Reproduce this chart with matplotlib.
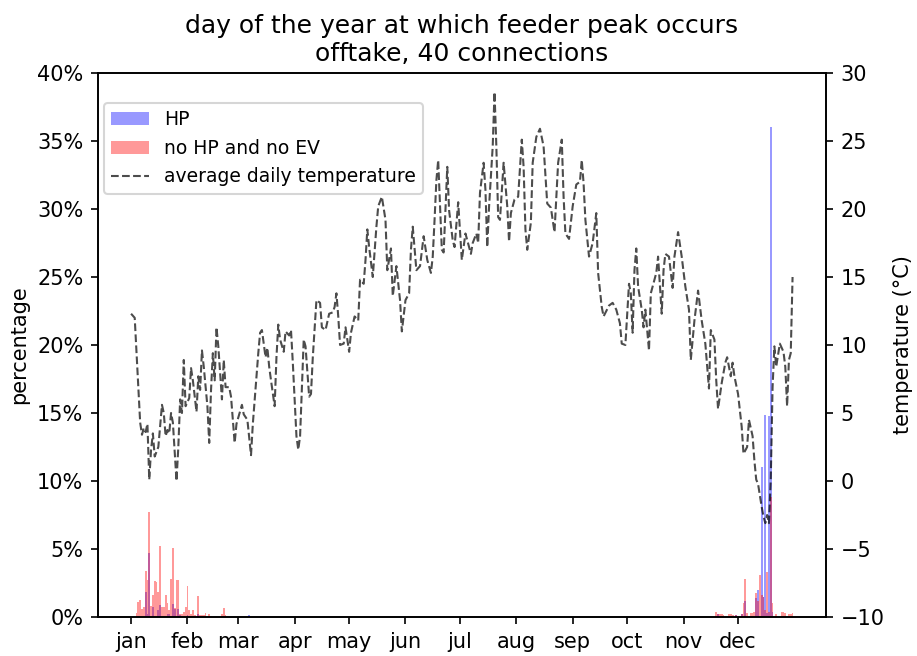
import matplotlib
matplotlib.use("Agg")
import matplotlib.pyplot as plt
from matplotlib.ticker import FuncFormatter
import numpy as np

# ---- data ----
month_labels = ['jan', 'feb', 'mar', 'apr', 'may', 'jun', 'jul', 'aug', 'sep', 'oct', 'nov', 'dec']
month_starts = [0, 31, 59, 90, 120, 151, 181, 212, 243, 273, 304, 334]

hp_days = [8, 9, 10, 12, 15, 16, 20, 21, 23, 24, 26, 27, 31, 37, 65,
           323, 333, 336, 338, 344, 345, 347, 348, 349, 350, 351, 352, 353]
hp_pct = [1.85, 0.25, 4.7, 0.7, 0.5, 0.85, 0.25, 0.25, 0.95, 0.6, 0.6, 0.15, 0.15, 0.25, 0.15,
          0.2, 0.15, 0.2, 1.2, 1.4, 2.0, 11.0, 1.5, 14.85, 0.3, 14.8, 36.0, 0.4]

nohp_days = [3, 4, 5, 6, 7, 8, 9, 10, 11, 12, 13, 14, 15, 16, 17, 18, 19, 20, 21, 22, 23,
             24, 25, 26, 27, 28, 29, 30, 31, 32, 33, 34, 35, 37, 38, 39, 40, 41, 43, 44,
             50, 51, 52,
             322, 323, 324, 325, 326, 329, 330, 331, 333, 336, 337, 338, 339, 341, 342, 343,
             344, 345, 346, 347, 348, 349, 350, 351, 352, 353, 355, 358, 359, 360, 362, 363, 364]
nohp_pct = [0.27, 1.1, 1.25, 0.56, 0.7, 3.4, 2.7, 7.7, 0.8, 1.6, 2.65, 2.6, 1.85, 5.2, 0.75,
            0.75, 1.65, 1.05, 0.5, 2.8, 5.1, 0.65, 2.75, 2.7, 0.25, 0.25, 0.4, 0.7, 2.3, 0.5,
            0.25, 0.55, 0.15, 1.55, 0.15, 0.15, 0.15, 0.3, 0.2, 0.1,
            0.2, 0.65, 0.15,
            0.35, 0.25, 0.2, 0.2, 0.15, 0.2, 0.2, 0.15, 0.15, 0.2, 1.0, 2.8, 0.3, 0.3, 0.3, 0.35,
            1.75, 1.2, 3.1, 1.6, 1.5, 0.5, 3.3, 0.4, 8.8, 1.0, 0.2, 0.4, 0.4, 0.3, 0.2, 0.25, 0.3]

temp_days = [0, 2, 5, 6, 7, 8, 9, 10, 11, 12, 13, 15, 17, 18, 19, 20, 21, 22, 23, 25, 26, 27, 28,
             29, 30, 32, 33, 34, 36, 37, 38, 39, 40, 42, 43, 44, 45, 46, 47, 48, 50, 51, 52, 54,
             55, 57, 58, 61, 62, 64, 66, 67, 70, 71, 72, 74, 75, 76, 77, 79, 80, 81, 82, 84, 85,
             87, 88, 89, 91, 92, 93, 95, 96, 98, 99, 100, 102, 104, 105, 107, 109, 111, 112, 113,
             114, 115, 117, 118, 120, 121, 123, 125, 126, 128, 129, 130, 131, 133, 135, 136, 138,
             140, 141, 143, 144, 146, 148, 149, 151, 153, 154, 155, 157, 159, 161, 163, 165, 166,
             167, 168, 169, 171, 172, 174, 175, 177, 178, 180, 182, 184, 185, 187, 188, 190, 191,
             192, 194, 195, 196, 197, 199, 200, 201, 202, 203, 205, 207, 208, 209, 211, 213, 215,
             216, 217, 218, 220, 221, 223, 225, 227, 229, 231, 233, 235, 237, 238, 239, 241, 243,
             245, 247, 248, 249, 250, 252, 254, 256, 257, 259, 260, 263, 265, 267, 269, 270, 272,
             274, 275, 276, 277, 278, 279, 281, 282, 283, 285, 286, 289, 290, 292, 293, 294, 296,
             298, 299, 301, 303, 305, 307, 308, 310, 312, 314, 316, 318, 319, 321, 322, 323, 325,
             327, 328, 330, 331, 332, 334, 336, 337, 339, 340, 342, 343, 344, 345, 347, 348, 349,
             350, 351, 352, 353, 354, 355, 357, 359, 360, 361, 362, 363, 364]
temp_vals = [12.3, 12.0, 4.3, 3.4, 3.9, 3.6, 4.2, 0.1, 2.3, 3.5, 1.8, 2.5, 5.6, 5.0, 3.3, 3.75,
             3.5, 5.0, 4.3, 0.0, 2.5, 6.0, 5.0, 8.9, 5.5, 6.1, 8.3, 7.4, 5.1, 7.7, 6.7, 9.6, 8.4,
             5.5, 2.8, 6.7, 9.4, 7.4, 11.3, 9.9, 6.0, 8.9, 6.9, 6.9, 6.2, 2.8, 4.2, 5.6, 4.9, 4.5,
             1.9, 4.2, 9.4, 10.9, 11.1, 9.1, 9.8, 8.4, 7.4, 5.5, 9.1, 11.5, 10.4, 9.5, 11.0, 10.7,
             11.1, 8.7, 3.3, 2.3, 3.3, 10.4, 9.9, 6.2, 6.4, 9.1, 13.3, 13.1, 11.3, 11.1, 12.3, 12.4,
             12.8, 13.8, 12.1, 10.0, 10.1, 11.3, 9.5, 10.9, 12.1, 11.8, 14.8, 14.5, 16.25, 18.5,
             17.2, 15.0, 18.7, 20.2, 20.9, 19.2, 15.5, 17.1, 13.6, 15.8, 13.3, 11.0, 13.3, 13.8,
             17.0, 18.7, 15.5, 15.8, 18.0, 16.25, 15.3, 16.5, 19.2, 22.1, 23.6, 17.0, 16.8, 23.1,
             19.9, 17.7, 17.2, 20.5, 16.25, 18.2, 17.7, 16.7, 17.5, 18.2, 17.5, 21.2, 23.4, 21.4,
             17.2, 20.2, 24.6, 28.6, 24.6, 19.4, 19.2, 23.4, 20.2, 17.6, 19.7, 20.7, 20.9, 25.1,
             23.1, 18.5, 17.0, 19.0, 23.4, 25.3, 25.9, 24.6, 20.4, 20.1, 18.3, 23.4, 25.1, 20.9,
             18.2, 17.8, 20.2, 21.8, 22.0, 23.6, 21.9, 19.2, 16.5, 17.5, 19.7, 15.3, 12.8, 12.1,
             12.9, 13.1, 12.6, 11.6, 10.1, 10.0, 14.5, 13.8, 10.9, 15.5, 17.1, 14.3, 12.6, 11.3,
             12.6, 9.6, 13.8, 15.3, 16.5, 12.3, 15.5, 16.7, 16.5, 14.2, 16.5, 18.3, 16.5, 14.3,
             12.6, 8.9, 11.8, 14.0, 11.8, 10.1, 6.8, 11.1, 10.4, 7.4, 5.3, 7.2, 8.7, 9.1, 7.7, 8.7,
             7.7, 6.4, 4.0, 2.0, 2.5, 4.5, 3.3, 1.5, 0.1, -0.2, -1.9, -2.6, -3.1, -2.5, -3.1, 0.1,
             6.9, 9.9, 8.4, 10.1, 9.5, 8.4, 5.5, 8.9, 9.4, 15.0]

# ---- figure ----
fig = plt.figure(figsize=(917 / 150, 656 / 150), dpi=150)
ax = fig.add_axes([98 / 917, 1 - 617 / 656, 728 / 917, 544 / 656])

ax.bar(hp_days, hp_pct, width=1.0, color='blue', alpha=0.4, label='HP')
ax.bar(nohp_days, nohp_pct, width=1.0, color='red', alpha=0.4, label='no HP and no EV')
ax.set_ylim(0, 40)
ax.set_xlim(-18.2, 382.4)
ax.yaxis.set_major_formatter(FuncFormatter(lambda v, p: f"{v:.0f}%"))
ax.set_yticks(np.arange(0, 41, 5))
ax.set_xticks(month_starts)
ax.set_xticklabels(month_labels)
ax.set_ylabel('percentage')
ax.set_title('day of the year at which feeder peak occurs\nofftake, 40 connections', fontsize=12)

ax2 = ax.twinx()
ax2.plot(temp_days, temp_vals, ls='--', color='k', alpha=0.7, lw=1.0,
         label='average daily temperature')
ax2.set_ylim(-10, 30)
ax2.set_ylabel('temperature (°C)')

h1, l1 = ax.get_legend_handles_labels()
h2, l2 = ax2.get_legend_handles_labels()
ax2.legend(h1 + h2, l1 + l2, loc='upper left', bbox_to_anchor=(0.008, 0.945),
           borderaxespad=0.0, fontsize=9)

fig.savefig('out.png', dpi=150)
